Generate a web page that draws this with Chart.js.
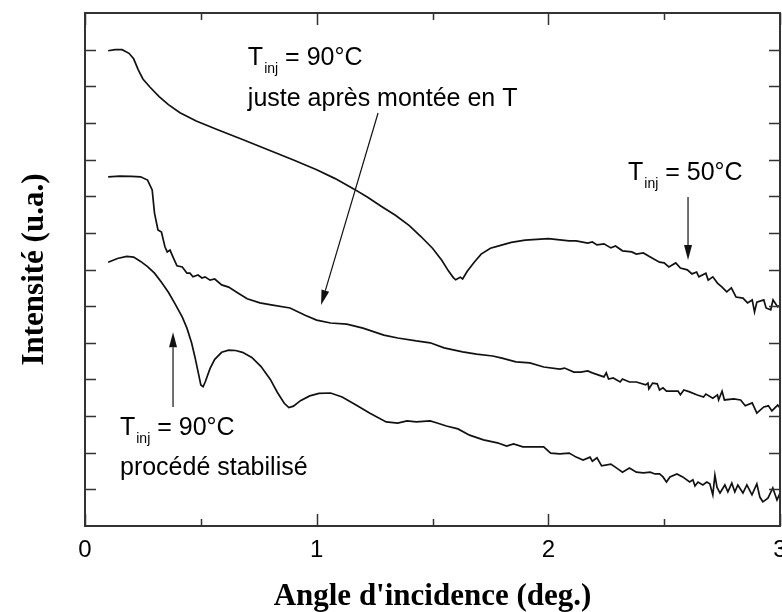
<!DOCTYPE html>
<html>
<head>
<meta charset="utf-8">
<script src="https://cdn.jsdelivr.net/npm/chart.js@4"></script>
<style>
  body { margin: 0; background: #fff; }
  #wrap { width: 782px; height: 612px; }
</style>
</head>
<body>
<div id="wrap"><canvas id="chart"></canvas></div>
<script>
// axis stuff
var xTickLabels = ['0', '1', '2', '3'];
var xTickValues = [0, 1, 2, 3];
var xMinorTicks = [0.5, 1.5, 2.5];
var yTickValues = [1, 2, 3, 4, 5, 6, 7, 8, 9, 10, 11, 12, 13];

// T_inj = 50°C (top curve), [angle, intensity]
var curve50 = [[0.10,12.97],[0.13,13.0],[0.16,13.0],[0.19,12.9],[0.21,12.75],[0.23,12.45],[0.25,12.2],[0.28,11.98],[0.32,11.72],[0.36,11.5],[0.41,11.28],[0.48,11.05],[0.57,10.82],[0.68,10.55],[0.79,10.27],[0.9,9.99],[1.0,9.72],[1.08,9.48],[1.16,9.2],[1.22,8.97],[1.28,8.72],[1.34,8.48],[1.40,8.2],[1.45,7.9],[1.50,7.58],[1.54,7.25],[1.57,6.95],[1.59,6.78],[1.60,6.72],[1.62,6.79],[1.63,6.74],[1.65,6.95],[1.68,7.2],[1.71,7.42],[1.75,7.58],[1.79,7.65],[1.84,7.74],[1.9,7.8],[1.95,7.82],[2.0,7.84],
  [2.05,7.81],[2.09,7.78],[2.12,7.78],[2.17,7.72],[2.19,7.75],[2.21,7.67],[2.24,7.7],[2.27,7.59],[2.29,7.64],[2.32,7.51],[2.36,7.48],[2.38,7.42],[2.41,7.45],[2.44,7.34],[2.48,7.2],[2.50,7.18],[2.52,7.07],[2.55,7.18],[2.57,7.04],[2.60,6.99],[2.62,6.88],[2.64,6.93],[2.65,6.8],[2.68,6.9],[2.69,6.71],[2.71,6.8],[2.73,6.63],[2.75,6.52],[2.77,6.39],[2.79,6.5],[2.81,6.25],[2.84,6.22],[2.86,6.09],[2.88,6.17],[2.89,5.84],[2.90,6.11],[2.93,6.17],[2.94,5.95],[2.96,5.9],[2.97,6.17],[2.99,5.98],[3.0,6.03]];

// T_inj = 90°C juste après montée en T (middle curve)
var curve90a = [[0.10,9.53],[0.15,9.55],[0.20,9.54],[0.24,9.53],[0.27,9.44],[0.29,9.17],[0.30,8.54],[0.315,8.08],[0.33,8.02],[0.345,7.62],[0.355,7.48],[0.367,7.53],[0.38,7.34],[0.397,7.1],[0.42,7.07],[0.44,6.9],[0.453,6.9],[0.466,6.8],[0.488,6.85],[0.505,6.77],[0.518,6.8],[0.54,6.71],[0.56,6.74],[0.59,6.58],[0.62,6.52],[0.66,6.36],[0.70,6.2],[0.755,6.09],[0.81,6.03],[0.885,5.95],[0.95,5.75],[1.0,5.62],[1.06,5.54],[1.13,5.51],[1.2,5.4],[1.29,5.21],[1.35,5.13],[1.43,5.05],[1.49,5.0],[1.55,4.86],[1.63,4.75],[1.69,4.69],[1.76,4.64],[1.8,4.58],[1.86,4.48],[1.92,4.45],[1.98,4.34],[2.05,4.28],
  [2.07,4.31],[2.11,4.2],[2.14,4.2],[2.17,4.23],[2.19,4.18],[2.24,4.07],[2.25,4.18],[2.26,4.01],[2.28,4.04],[2.31,3.93],[2.32,4.01],[2.35,3.93],[2.38,3.93],[2.42,3.85],[2.43,3.9],[2.434,3.74],[2.45,3.9],[2.47,3.88],[2.48,3.71],[2.495,3.77],[2.51,3.68],[2.56,3.68],[2.57,3.58],[2.585,3.71],[2.61,3.66],[2.64,3.58],[2.67,3.52],[2.68,3.6],[2.71,3.49],[2.73,3.58],[2.735,3.44],[2.75,3.68],[2.76,3.44],[2.80,3.47],[2.83,3.44],[2.85,3.28],[2.88,3.36],[2.90,3.08],[2.93,3.25],[2.95,3.28],[2.965,3.14],[2.99,3.3],[3.0,3.22]];

// T_inj = 90°C procédé stabilisé (bottom curve)
var curve90b = [[0.10,7.2],[0.14,7.3],[0.18,7.36],[0.21,7.34],[0.24,7.22],[0.27,7.08],[0.30,6.9],[0.33,6.65],[0.36,6.38],[0.39,6.05],[0.42,5.7],[0.44,5.4],[0.46,5.0],[0.475,4.6],[0.49,4.15],[0.50,3.85],[0.51,3.8],[0.52,3.95],[0.54,4.3],[0.56,4.55],[0.59,4.74],[0.62,4.8],[0.65,4.79],[0.68,4.74],[0.72,4.6],[0.76,4.35],[0.80,4.0],[0.83,3.65],[0.86,3.35],[0.88,3.23],[0.90,3.27],[0.93,3.42],[0.97,3.55],[1.01,3.62],[1.06,3.63],[1.11,3.52],[1.17,3.3],[1.23,3.08],[1.3,2.84],[1.35,2.81],[1.39,2.87],[1.43,2.84],[1.49,2.87],[1.52,2.81],[1.56,2.73],[1.61,2.65],[1.66,2.48],[1.72,2.35],[1.78,2.27],[1.82,2.18],[1.85,2.24],[1.89,2.16],[1.93,2.16],[1.98,2.16],[2.01,1.99],[2.05,1.97],
  [2.09,1.99],[2.12,1.88],[2.15,1.8],[2.18,1.88],[2.19,1.77],[2.21,1.86],[2.23,1.64],[2.27,1.69],[2.30,1.56],[2.32,1.47],[2.35,1.58],[2.38,1.47],[2.41,1.45],[2.44,1.47],[2.46,1.42],[2.48,1.42],[2.495,1.34],[2.51,1.2],[2.525,1.34],[2.555,1.42],[2.58,1.34],[2.61,1.2],[2.624,1.26],[2.633,1.09],[2.646,1.2],[2.667,1.12],[2.684,1.2],[2.697,1.15],[2.71,0.85],[2.719,1.39],[2.728,1.06],[2.741,0.9],[2.762,1.12],[2.775,0.93],[2.792,1.17],[2.805,0.93],[2.818,1.12],[2.84,0.9],[2.857,1.12],[2.879,0.85],[2.9,1.15],[2.913,0.79],[2.926,0.66],[2.948,0.76],[2.969,1.04],[2.987,0.71],[3.0,0.9]];

// annotations (data coords)
var labels = [
  { x: 0.703, y: 12.58, main: 'T', sub: 'inj', rest: ' = 90°C' },
  { x: 0.703, y: 11.46, text: 'juste après montée en T' },
  { x: 2.344, y: 9.44, main: 'T', sub: 'inj', rest: ' = 50°C' },
  { x: 0.151, y: 2.48, main: 'T', sub: 'inj', rest: ' = 90°C' },
  { x: 0.151, y: 1.39, text: 'procédé stabilisé' }
];
var arrows = [
  { from: [1.265, 11.27], to: [1.019, 6.03] },
  { from: [2.603, 8.98], to: [2.603, 7.26] },
  { from: [0.38, 3.25], to: [0.38, 5.29] }
];

function toPts(arr) {
  return arr.map(function (p) { return { x: p[0], y: p[1] }; });
}

var lineStyle = { borderColor: '#111', borderWidth: 1.7, pointRadius: 0, tension: 0, fill: false };

var decor = {
  id: 'decor',
  afterDraw: function (chart) {
    var ctx = chart.ctx;
    var a = chart.chartArea;
    var xs = chart.scales.x, ys = chart.scales.y;
    ctx.save();
    ctx.strokeStyle = '#333';
    ctx.lineWidth = 1.5;
    // inward ticks
    ctx.beginPath();
    yTickValues.forEach(function (v) {
      var py = Math.round(ys.getPixelForValue(v)) + 0.5;
      ctx.moveTo(a.left, py); ctx.lineTo(a.left + 11, py);
      ctx.moveTo(a.right, py); ctx.lineTo(a.right - 11, py);
    });
    xTickValues.concat(xMinorTicks).forEach(function (v) {
      var px = Math.round(xs.getPixelForValue(v)) + 0.5;
      var len = xMinorTicks.indexOf(v) >= 0 ? 7 : 12;
      ctx.moveTo(px, a.bottom); ctx.lineTo(px, a.bottom - len);
      ctx.moveTo(px, a.top); ctx.lineTo(px, a.top + len);
    });
    ctx.stroke();
    // frame
    ctx.lineWidth = 2;
    ctx.strokeRect(a.left, a.top, a.right - a.left, a.bottom - a.top);

    // tick labels
    ctx.fillStyle = '#000';
    ctx.font = '24px "Liberation Sans", Arial, sans-serif';
    ctx.textAlign = 'center';
    ctx.textBaseline = 'alphabetic';
    xTickValues.forEach(function (v, i) {
      ctx.fillText(xTickLabels[i], xs.getPixelForValue(v), a.bottom + 31);
    });

    // axis titles
    ctx.font = 'bold 31px "Liberation Serif", "Times New Roman", serif';
    ctx.fillText("Angle d'incidence (deg.)", (a.left + a.right) / 2, 605);
    ctx.save();
    ctx.translate(43, (a.top + a.bottom) / 2);
    ctx.rotate(-Math.PI / 2);
    ctx.fillText('Intensité (u.a.)', 0, 0);
    ctx.restore();

    // annotation text
    ctx.textAlign = 'left';
    labels.forEach(function (l) {
      var px = xs.getPixelForValue(l.x), py = ys.getPixelForValue(l.y);
      ctx.font = '25px "Liberation Sans", Arial, sans-serif';
      if (l.text) { ctx.fillText(l.text, px, py); return; }
      ctx.fillText(l.main, px, py);
      px += ctx.measureText(l.main).width + 1;
      ctx.font = '14px "Liberation Sans", Arial, sans-serif';
      ctx.fillText(l.sub, px, py + 8);
      px += ctx.measureText(l.sub).width;
      ctx.font = '25px "Liberation Sans", Arial, sans-serif';
      ctx.fillText(l.rest, px, py);
    });

    // arrows
    ctx.strokeStyle = '#111';
    ctx.lineWidth = 1.2;
    arrows.forEach(function (ar) {
      var x1 = xs.getPixelForValue(ar.from[0]), y1 = ys.getPixelForValue(ar.from[1]);
      var x2 = xs.getPixelForValue(ar.to[0]), y2 = ys.getPixelForValue(ar.to[1]);
      var ang = Math.atan2(y2 - y1, x2 - x1);
      var hl = 15, hw = 4;
      var bx = x2 - hl * Math.cos(ang), by = y2 - hl * Math.sin(ang);
      ctx.beginPath();
      ctx.moveTo(x1, y1); ctx.lineTo(bx, by);
      ctx.stroke();
      ctx.beginPath();
      ctx.moveTo(x2, y2);
      ctx.lineTo(bx + hw * Math.sin(ang), by - hw * Math.cos(ang));
      ctx.lineTo(bx - hw * Math.sin(ang), by + hw * Math.cos(ang));
      ctx.closePath();
      ctx.fillStyle = '#111';
      ctx.fill();
    });
    ctx.restore();
  }
};

new Chart(document.getElementById('chart'), {
  type: 'line',
  data: {
    datasets: [
      Object.assign({ label: 'Tinj = 50°C', data: toPts(curve50) }, lineStyle),
      Object.assign({ label: 'Tinj = 90°C juste après montée en T', data: toPts(curve90a) }, lineStyle),
      Object.assign({ label: 'Tinj = 90°C procédé stabilisé', data: toPts(curve90b) }, lineStyle)
    ]
  },
  options: {
    responsive: true,
    maintainAspectRatio: false,
    animation: false,
    layout: { padding: { left: 85, right: 2, top: 13, bottom: 86 } },
    scales: {
      x: { type: 'linear', min: 0, max: 3, display: false },
      y: { type: 'linear', min: 0, max: 14, display: false }
    },
    plugins: { legend: { display: false }, tooltip: { enabled: false } }
  },
  plugins: [decor]
});
</script>
</body>
</html>
